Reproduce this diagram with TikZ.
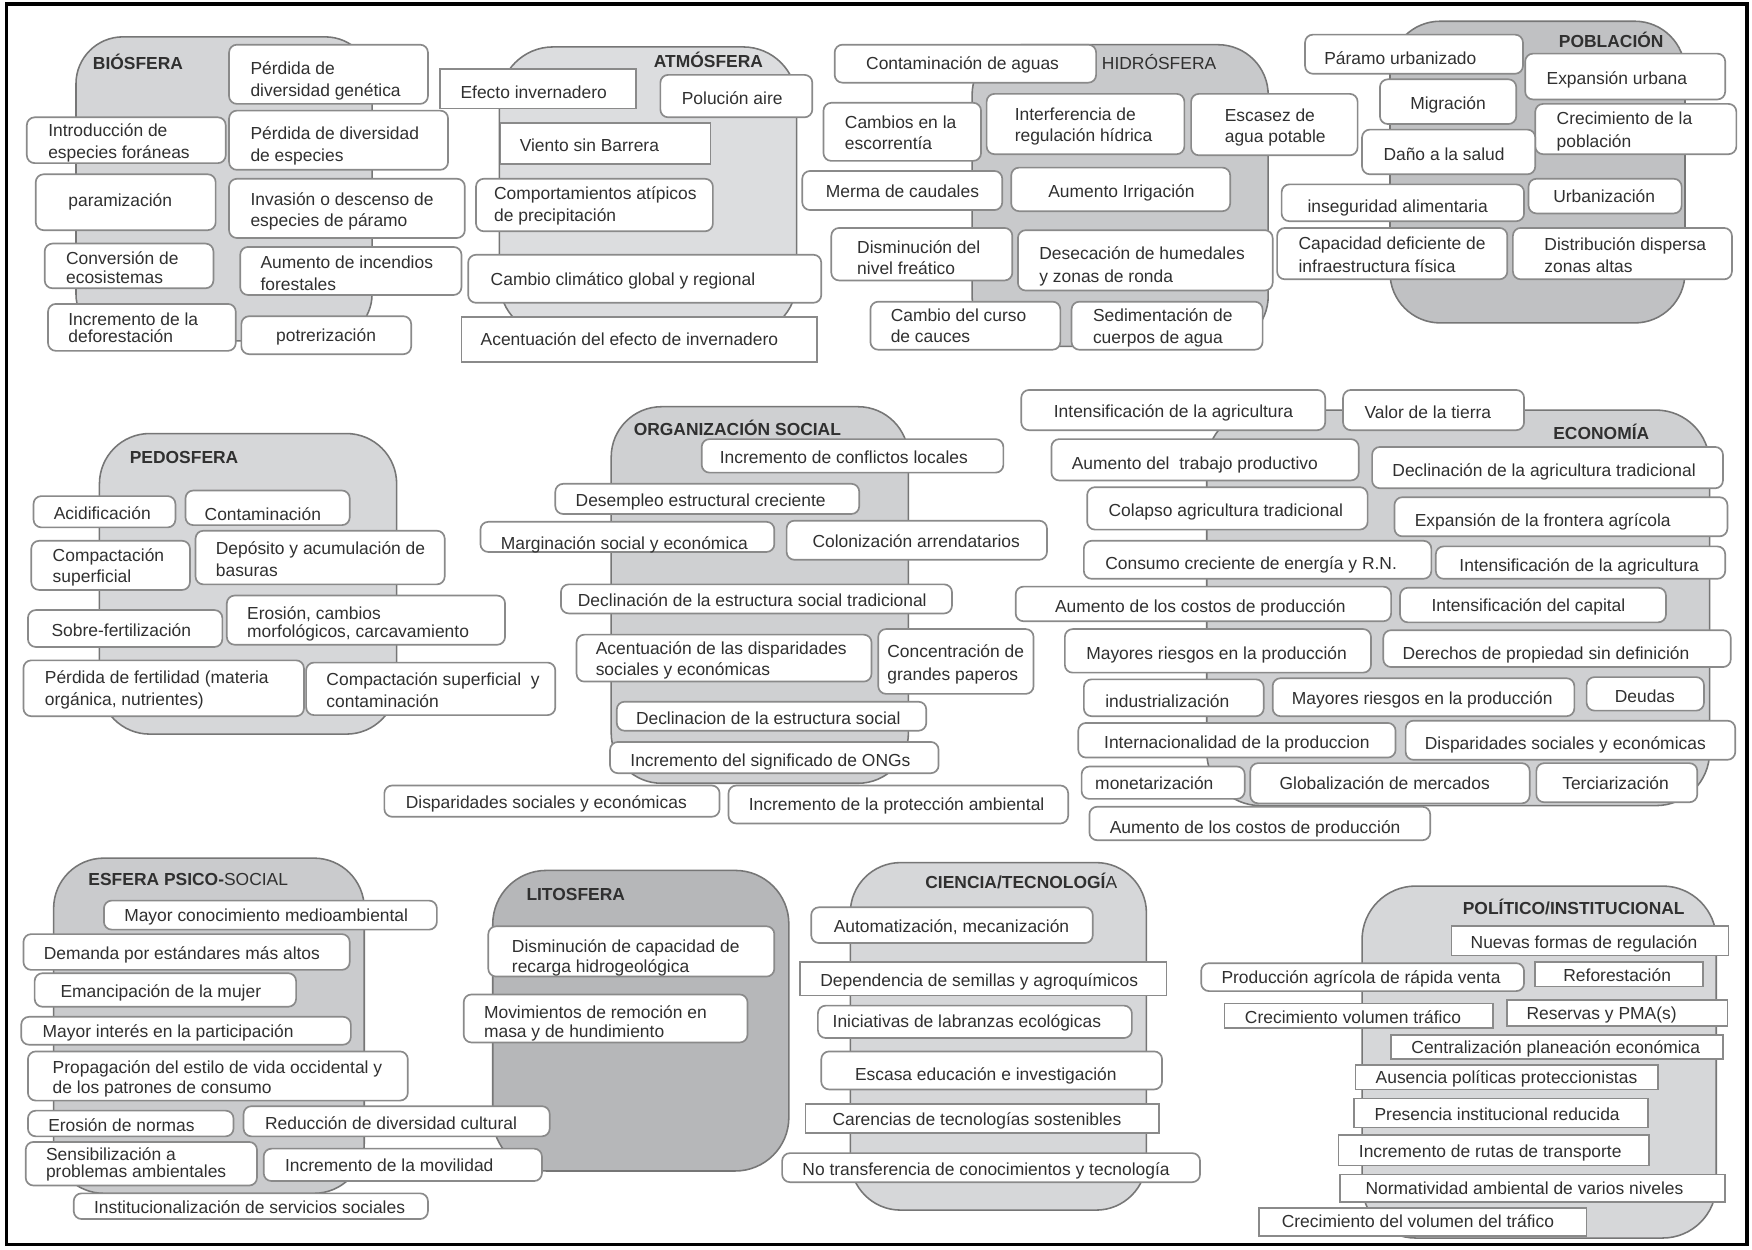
\documentclass[tikz,border=0pt]{standalone}
\usepackage{fontspec}
\setmainfont{Liberation Sans}
\usetikzlibrary{fit}
\definecolor{gBio}{RGB}{212,213,215}
\definecolor{gAtm}{RGB}{220,221,223}
\definecolor{gHid}{RGB}{200,201,203}
\definecolor{gPob}{RGB}{192,193,195}
\definecolor{gPed}{RGB}{214,215,217}
\definecolor{gOrg}{RGB}{207,208,210}
\definecolor{gEco}{RGB}{207,208,210}
\definecolor{gPsi}{RGB}{202,203,205}
\definecolor{gLit}{RGB}{182,183,185}
\definecolor{gCie}{RGB}{214,215,217}
\definecolor{gPol}{RGB}{214,215,217}
\definecolor{blkline}{RGB}{118,118,118}
\definecolor{boxline}{RGB}{138,138,138}
\definecolor{txtc}{RGB}{48,48,48}
\newcommand\fs{\fontsize{15.6}{19}\selectfont}
\newcommand\mybox[6][rbox]{\node[#1, fit={(#3,#4) (#5,#6)}] (#2) {};}
\newcommand\myline[4]{\node[txt] (#1) at (#2,#3) {#4};}
\newcommand\myhead[4]{\node[hdr] (#1) at (#2,#3) {#4};}
\tikzset{
  blk/.style={draw=blkline, line width=1.4pt, inner sep=0pt},
  rbox/.style={draw=boxline, fill=white, line width=1.5pt, rounded corners=7pt, inner sep=0pt},
  sbox/.style={draw=boxline, fill=white, line width=1.5pt, inner sep=0pt},
  txt/.style={anchor=west, inner sep=0pt, text height=11.2pt, text depth=0pt, text=txtc, font=\fs},
  hdr/.style={txt, font=\fs\bfseries},
  frame/.style={draw=black, line width=3pt}
}
\begin{document}
\begin{tikzpicture}[x=1pt,y=-1pt]
\useasboundingbox (0,0) rectangle (1568,1118);
\fill[white] (0,0) rectangle (1568,1118);
\node[frame, fit={(6,3.5) (1563.5,1114)}, inner sep=0pt] (frm) {};

% ================= background spheres
\node[blk, fill=gBio, rounded corners=42pt, fit={(68,33) (333,305)}] (bio) {};
\node[blk, fill=gAtm, rounded corners=48pt, fit={(447,42) (713,300)}] (atm) {};
\node[blk, fill=gHid, rounded corners=45pt, fit={(870,40) (1135,310)}] (hid) {};
\node[blk, fill=gPob, rounded corners=45pt, fit={(1244,19) (1508,289)}] (pob) {};
\node[blk, fill=gPed, rounded corners=45pt, fit={(89,388) (355,657)}] (ped) {};
\node[blk, fill=gOrg, rounded corners=45pt, fit={(547,364) (813,701)}] (org) {};
\node[blk, fill=gEco, rounded corners=48pt, fit={(1080,367) (1530,721)}] (eco) {};
\node[blk, fill=gPsi, rounded corners=45pt, fit={(48,768) (326,1068)}] (psi) {};
\node[blk, fill=gLit, rounded corners=48pt, fit={(441,779) (706,1048)}] (lit) {};
\node[blk, fill=gCie, rounded corners=45pt, fit={(761,772) (1026,1083)}] (cie) {};
\node[blk, fill=gPol, rounded corners=48pt, fit={(1219,793) (1536,1108)}] (pol) {};

% ================= headers
\myhead{bioh}{83}{57}{BIÓSFERA}
\myhead{atmh}{585}{55}{ATMÓSFERA}
\myline{hidh}{986}{57}{HIDRÓSFERA}
\myhead{pobh}{1395}{37}{POBLACIÓN}
\myhead{pedh}{116}{409}{PEDOSFERA}
\myhead{orgh}{567}{384}{ORGANIZACIÓN SOCIAL}
\myhead{ecoh}{1390}{388}{ECONOMÍA}
\myline{psih}{79}{787}{{\bfseries ESFERA PSICO-}SOCIAL}
\myhead{lith}{471}{800}{LITOSFERA}
\myline{cieh}{828}{790}{{\bfseries CIENCIA/TECNOLOGÍ}A}
\myhead{polh}{1309}{813}{POLÍTICO/INSTITUCIONAL}

% ---------------- BIOSFERA
\mybox{b1}{205}{40}{383}{93}
\myline{b1a}{224}{61}{Pérdida de}
\myline{b1b}{224}{81}{diversidad genética}
\mybox{b2}{24}{105}{202}{146}
\myline{b2a}{43}{117}{Introducción de}
\myline{b2b}{43}{136}{especies foráneas}
\mybox{b3}{205}{99}{401}{152}
\myline{b3a}{224}{119}{Pérdida de diversidad}
\myline{b3b}{224}{139}{de especies}
\mybox{b4}{32}{156}{193}{206}
\myline{b4a}{61}{179}{paramización}
\mybox{b5}{205}{160}{416}{213}
\myline{b5a}{224}{178}{Invasión o descenso de}
\myline{b5b}{224}{197}{especies de páramo}
\mybox{b6}{40}{218}{191}{258}
\myline{b6a}{59}{231}{Conversión de}
\myline{b6b}{59}{248}{ecosistemas}
\mybox{b7}{215}{221}{413}{264}
\myline{b7a}{233}{235}{Aumento de incendios}
\myline{b7b}{233}{254}{forestales}
\mybox{b8}{43}{272}{211}{314}
\myline{b8a}{61}{286}{Incremento de la}
\myline{b8b}{61}{301}{deforestación}
\mybox{b9}{216}{283}{368}{317}
\myline{b9a}{247}{300}{potrerización}

% ---------------- ATMOSFERA
\mybox[sbox]{a1}{394}{62}{569}{97}
\myline{a1a}{412}{83}{Efecto invernadero}
\mybox{a2}{591}{67}{727}{105}
\myline{a2a}{610}{88}{Polución aire}
\mybox[sbox]{a3}{448}{110}{636}{147}
\myline{a3a}{465}{130}{Viento sin Barrera}
\mybox{a4}{426}{160}{638}{207}
\myline{a4a}{442}{173}{Comportamientos atípicos}
\myline{a4b}{442}{193}{de precipitación}
\mybox{a5}{419}{228}{735}{271}
\myline{a5a}{439}{250}{Cambio climático global y regional}
\mybox[sbox]{a6}{413}{284}{731}{324}
\myline{a6a}{430}{304}{Acentuación del efecto de invernadero}

% ---------------- HIDROSFERA
\mybox{h1}{747}{40}{981}{74}
\myline{h1a}{775}{57}{Contaminación de aguas}
\mybox{h2}{737}{92}{878}{144}
\myline{h2a}{756}{109}{Cambios en la}
\myline{h2b}{756}{128}{escorrentía}
\mybox{h3}{883}{84}{1060}{138}
\myline{h3a}{908}{102}{Interferencia de}
\myline{h3b}{908}{121}{regulación hídrica}
\mybox{h4}{1066}{84}{1215}{139}
\myline{h4a}{1096}{103}{Escasez de}
\myline{h4b}{1096}{122}{agua potable}
\mybox{h5}{718}{153}{897}{188}
\myline{h5a}{739}{171}{Merma de caudales}
\mybox{h6}{905}{150}{1101}{189}
\myline{h6a}{938}{171}{Aumento Irrigación}
\mybox{h7}{744}{204}{906}{251}
\myline{h7a}{767}{221}{Disminución del}
\myline{h7b}{767}{240}{nivel freático}
\mybox{h8}{911}{206}{1139}{260}
\myline{h8a}{930}{227}{Desecación de humedales}
\myline{h8b}{930}{247}{y zonas de ronda}
\mybox{h9}{779}{270}{949}{313}
\myline{h9a}{797}{282}{Cambio del curso}
\myline{h9b}{797}{301}{de cauces}
\mybox{h10}{959}{270}{1130}{313}
\myline{h10a}{978}{282}{Sedimentación de}
\myline{h10b}{978}{302}{cuerpos de agua}

% ---------------- POBLACION
\mybox{p1}{1168}{31}{1363}{66}
\myline{p1a}{1185}{52}{Páramo urbanizado}
\mybox{p2}{1365}{48}{1544}{89}
\myline{p2a}{1384}{70}{Expansión urbana}
\mybox{p3}{1235}{71}{1357}{111}
\myline{p3a}{1262}{92}{Migración}
\mybox{p4}{1374}{93}{1554}{138}
\myline{p4a}{1393}{106}{Crecimiento de la}
\myline{p4b}{1393}{126}{población}
\mybox{p5}{1219}{116}{1374}{156}
\myline{p5a}{1238}{138}{Daño a la salud}
\mybox{p6}{1147}{165}{1364}{198}
\myline{p6a}{1170}{185}{inseguridad alimentaria}
\mybox{p7}{1368}{160}{1505}{191}
\myline{p7a}{1390}{176}{Urbanización}
\mybox{p8}{1143}{204}{1349}{250}
\myline{p8a}{1162}{218}{Capacidad deficiente de}
\myline{p8b}{1162}{238}{infraestructura física}
\mybox{p9}{1354}{204}{1550}{250}
\myline{p9a}{1382}{219}{Distribución dispersa}
\myline{p9b}{1382}{238}{zonas altas}

% ---------------- PEDOSFERA
\mybox{e1}{30}{444}{157}{472}
\myline{e1a}{48}{459}{Acidificación}
\mybox{e2}{166}{439}{313}{470}
\myline{e2a}{183}{460}{Contaminación}
\mybox{e3}{28}{484}{170}{528}
\myline{e3a}{47}{497}{Compactación}
\myline{e3b}{47}{516}{superficial}
\mybox{e4}{175}{475}{398}{523}
\myline{e4a}{193}{491}{Depósito y acumulación de}
\myline{e4b}{193}{510}{basuras}
\mybox{e5}{25}{546}{199}{579}
\myline{e5a}{46}{564}{Sobre-fertilización}
\mybox{e6}{203}{533}{452}{577}
\myline{e6a}{221}{549}{Erosión, cambios}
\myline{e6b}{221}{565}{morfológicos, carcavamiento}
\mybox{e7}{21}{591}{272}{641}
\myline{e7a}{40}{606}{Pérdida de fertilidad (materia}
\myline{e7b}{40}{626}{orgánica, nutrientes)}
\mybox{e8}{274}{593}{497}{640}
\myline{e8a}{292}{608}{Compactación superficial\ \ y}
\myline{e8b}{292}{628}{contaminación}

% ---------------- ORGANIZACION SOCIAL
\mybox{o1}{628}{393}{898}{423}
\myline{o1a}{644}{409}{Incremento de conflictos locales}
\mybox{o2}{497}{433}{769}{460}
\myline{o2a}{515}{448}{Desempleo estructural creciente}
\mybox{o3}{430}{467}{693}{494}
\myline{o3a}{448}{486}{Marginación social y económica}
\mybox{o4}{704}{466}{937}{501}
\myline{o4a}{727}{484}{Colonización arrendatarios}
\mybox{o5}{502}{523}{852}{549}
\myline{o5a}{517}{537}{Declinación de la estructura social tradicional}
\mybox{o6}{516}{568}{780}{610}
\myline{o6a}{533}{580}{Acentuación de las disparidades}
\myline{o6b}{533}{599}{sociales y económicas}
\mybox{o7}{786}{563}{925}{621}
\myline{o7a}{794}{583}{Concentración de}
\myline{o7b}{794}{603}{grandes paperos}
\mybox{o8}{552}{628}{829}{654}
\myline{o8a}{569}{643}{Declinacion de la estructura social}
\mybox{o9}{546}{664}{840}{692}
\myline{o9a}{564}{680}{Incremento del significado de ONGs}
\mybox{o10}{344}{703}{644}{731}
\myline{o10a}{363}{718}{Disparidades sociales y económicas}
\mybox{o11}{652}{703}{956}{737}
\myline{o11a}{670}{720}{Incremento de la protección ambiental}

% ---------------- ECONOMIA
\mybox{c1}{914}{349}{1186}{385}
\myline{c1a}{943}{368}{Intensificación de la agricultura}
\mybox{c2}{1202}{349}{1364}{385}
\myline{c2a}{1221}{369}{Valor de la tierra}
\mybox{c3}{941}{393}{1216}{430}
\myline{c3a}{959}{415}{Aumento del\ \ trabajo productivo}
\mybox{c4}{1228}{400}{1542}{437}
\myline{c4a}{1246}{421}{Declinación de la agricultura tradicional}
\mybox{c5}{973}{436}{1224}{474}
\myline{c5a}{992}{457}{Colapso agricultura tradicional}
\mybox{c6}{1248}{445}{1546}{480}
\myline{c6a}{1266}{466}{Expansión de la frontera agrícola}
\mybox{c7}{970}{484}{1281}{518}
\myline{c7a}{989}{504}{Consumo creciente de energía y R.N.}
\mybox{c8}{1285}{489}{1544}{518}
\myline{c8a}{1306}{506}{Intensificación de la agricultura}
\mybox{c9}{909}{525}{1245}{556}
\myline{c9a}{944}{543}{Aumento de los costos de producción}
\mybox{c10}{1253}{526}{1491}{557}
\myline{c10a}{1281}{542}{Intensificación del capital}
\mybox{c11}{953}{563}{1227}{602}
\myline{c11a}{972}{585}{Mayores riesgos en la producción}
\mybox{c12}{1238}{564}{1549}{597}
\myline{c12a}{1255}{585}{Derechos de propiedad sin definición}
\mybox{c13}{970}{608}{1131}{641}
\myline{c13a}{989}{628}{industrialización}
\mybox{c14}{1139}{607}{1409}{641}
\myline{c14a}{1156}{625}{Mayores riesgos en la producción}
\mybox{c15}{1420}{606}{1525}{636}
\myline{c15a}{1445}{623}{Deudas}
\mybox{c16}{965}{647}{1249}{678}
\myline{c16a}{988}{664}{Internacionalidad de la produccion}
\mybox{c17}{1258}{645}{1553}{680}
\myline{c17a}{1275}{665}{Disparidades sociales y económicas}
\mybox{c18}{968}{686}{1114}{715}
\myline{c18a}{980}{701}{monetarización}
\mybox{c19}{1119}{683}{1369}{719}
\myline{c19a}{1145}{701}{Globalización de mercados}
\mybox{c20}{1375}{683}{1519}{718}
\myline{c20a}{1398}{701}{Terciarización}
\mybox{c21}{975}{722}{1280}{752}
\myline{c21a}{993}{740}{Aumento de los costos de producción}

% ---------------- ESFERA PSICO-SOCIAL
\mybox{s1}{93}{806}{391}{832}
\myline{s1a}{111}{819}{Mayor conocimiento medioambiental}
\mybox{s2}{21}{836}{313}{868}
\myline{s2a}{39}{853}{Demanda por estándares más altos}
\mybox{s3}{31}{871}{265}{901}
\myline{s3a}{54}{887}{Emancipación de la mujer}
\mybox{s4}{19}{910}{314}{935}
\myline{s4a}{38}{923}{Mayor interés en la participación}
\mybox{s5}{25}{941}{365}{985}
\myline{s5a}{47}{955}{Propagación del estilo de vida occidental y}
\myline{s5b}{47}{973}{de los patrones de consumo}
\mybox{s6}{25}{994}{209}{1017}
\myline{s6a}{43}{1007}{Erosión de normas}
\mybox{s7}{218}{990}{492}{1017}
\myline{s7a}{237}{1005}{Reducción de diversidad cultural}
\mybox{s8}{23}{1022}{230}{1061}
\myline{s8a}{41}{1033}{Sensibilización a}
\myline{s8b}{41}{1048}{problemas ambientales}
\mybox{s9}{236}{1028}{485}{1057}
\myline{s9a}{255}{1043}{Incremento de la movilidad}
\mybox{s10}{66}{1068}{383}{1091}
\myline{s10a}{84}{1080}{Institucionalización de servicios sociales}

% ---------------- LITOSFERA
\mybox{l1}{437}{829}{693}{874}
\myline{l1a}{458}{847}{Disminución de capacidad de}
\myline{l1b}{458}{865}{recarga hidrogeológica}
\mybox{l2}{415}{890}{669}{933}
\myline{l2a}{433}{906}{Movimientos de remoción en}
\myline{l2b}{433}{923}{masa y de hundimiento}

% ---------------- CIENCIA/TECNOLOGIA
\mybox{t1}{726}{812}{978}{844}
\myline{t1a}{746}{829}{Automatización, mecanización}
\mybox[sbox]{t2}{716}{861}{1044}{891}
\myline{t2a}{734}{877}{Dependencia de semillas y agroquímicos}
\mybox{t3}{732}{900}{1013}{929}
\myline{t3a}{745}{914}{Iniciativas de labranzas ecológicas}
\mybox{t4}{735}{941}{1040}{975}
\myline{t4a}{765}{961}{Escasa educación e investigación}
\mybox[sbox]{t5}{721}{988}{1037}{1014}
\myline{t5a}{745}{1002}{Carencias de tecnologías sostenibles}
\mybox{t6}{700}{1032}{1074}{1058}
\myline{t6a}{718}{1046}{No transferencia de conocimientos y tecnología}

% ---------------- POLITICO/INSTITUCIONAL
\mybox[sbox]{q1}{1299}{829}{1547}{855}
\myline{q1a}{1316}{843}{Nuevas formas de regulación}
\mybox{q2}{1075}{862}{1364}{887}
\myline{q2a}{1093}{875}{Producción agrícola de rápida venta}
\mybox[sbox]{q3}{1374}{861}{1524}{883}
\myline{q3a}{1399}{873}{Reforestación}
\mybox[sbox]{q4}{1096}{898}{1336}{920}
\myline{q4a}{1114}{910}{Crecimiento volumen tráfico}
\mybox[sbox]{q5}{1349}{895}{1546}{918}
\myline{q5a}{1366}{907}{Reservas y PMA(s)}
\mybox[sbox]{q6}{1245}{926}{1542}{948}
\myline{q6a}{1263}{937}{Centralización planeación económica}
\mybox[sbox]{q7}{1213}{953}{1484}{975}
\myline{q7a}{1231}{964}{Ausencia políticas proteccionistas}
\mybox[sbox]{q8}{1212}{983}{1475}{1009}
\myline{q8a}{1230}{997}{Presencia institucional reducida}
\mybox[sbox]{q9}{1198}{1016}{1476}{1043}
\myline{q9a}{1216}{1030}{Incremento de rutas de transporte}
\mybox[sbox]{q10}{1199}{1051}{1544}{1076}
\myline{q10a}{1222}{1063}{Normatividad ambiental de varios niveles}
\mybox[sbox]{q11}{1127}{1081}{1420}{1106}
\myline{q11a}{1147}{1093}{Crecimiento del volumen del tráfico}
\end{tikzpicture}
\end{document}
